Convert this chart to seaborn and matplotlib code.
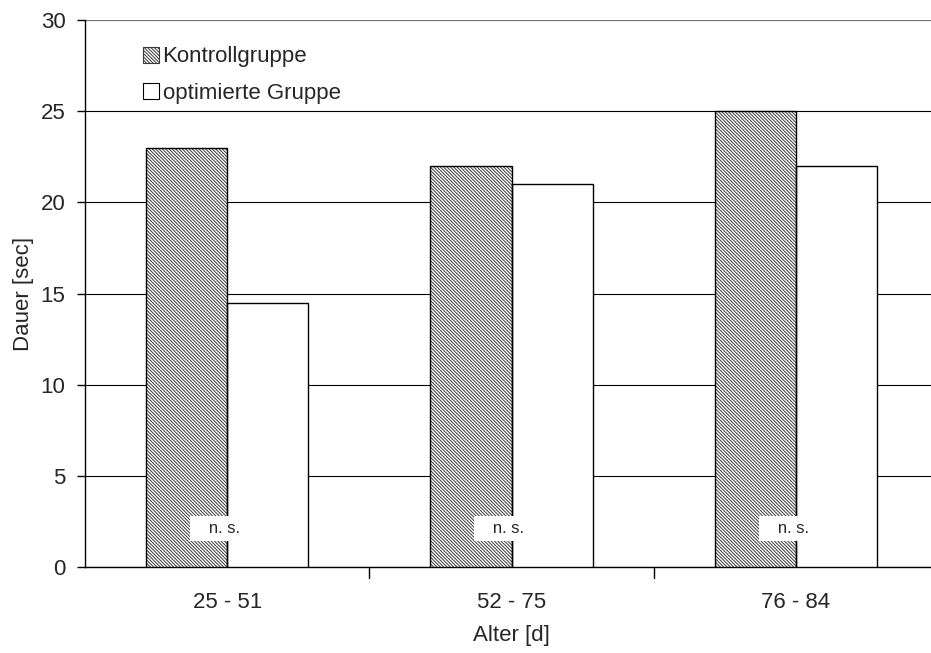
import numpy as np
import pandas as pd
import matplotlib
matplotlib.use("Agg")
import matplotlib.pyplot as plt
from matplotlib.patches import Patch, Rectangle
import seaborn as sns

# data
groups = ["25 - 51", "52 - 75", "76 - 84"]
kontroll = [23, 22, 25]
optimiert = [14.5, 21, 22]
series = ["Kontrollgruppe", "optimierte Gruppe"]
labels_ns = ["n. s.", "n. s.", "n. s."]

df = pd.DataFrame({
    "Alter": groups * 2,
    "Dauer": kontroll + optimiert,
    "Gruppe": [series[0]] * 3 + [series[1]] * 3,
})

sns.set_style("white")
plt.rcParams['font.family'] = ['Liberation Sans', 'DejaVu Sans']
plt.rcParams['hatch.linewidth'] = 0.7
HATCH = "\\" * 10
HATCH_COL = "#3a3a3a"

fig = plt.figure(figsize=(9.31, 6.53), dpi=100)
ax = fig.add_axes([85/931, 86/653, 853/931, 547/653])

sns.barplot(data=df, x="Alter", y="Dauer", hue="Gruppe", hue_order=series,
            palette=["white", "white"], width=0.57, edgecolor="black",
            linewidth=1.0, legend=False, ax=ax, zorder=3)

# hatch the control bars, then redraw a black outline on top
for p in list(ax.patches[:3]):
    p.set_hatch(HATCH)
    p.set_edgecolor(HATCH_COL)
    p.set_linewidth(0)
    ax.add_patch(Rectangle(p.get_xy(), p.get_width(), p.get_height(), fill=False,
                           edgecolor="black", linewidth=1.0, zorder=4))

ax.set_ylim(0, 30)
ax.set_xlim(-0.5, 2.5)
ax.set_yticks(np.arange(0, 31, 5))
ax.yaxis.grid(True, color="black", linewidth=0.8, zorder=0)
ax.set_axisbelow(True)
for s in ["top", "right"]:
    ax.spines[s].set_visible(False)
ax.spines["left"].set_color("black")
ax.spines["bottom"].set_color("black")
ax.spines["left"].set_linewidth(1.0)
ax.spines["bottom"].set_linewidth(1.0)
ax.axhline(30, color="#888888", linewidth=1.2, zorder=1)

# category separator ticks on x axis
ax.set_xticks([0, 1, 2])
ax.set_xticklabels(groups, fontsize=16)
ax.tick_params(axis="x", length=0, pad=18)
for xt in [0.5, 1.5]:
    ax.plot([xt, xt], [0, -0.6], color="black", linewidth=1.0, clip_on=False)
ax.tick_params(axis="y", left=True, length=6, width=1.0, color="black", labelsize=16, pad=8)

ax.set_xlabel("Alter [d]", fontsize=16, labelpad=9)
ax.set_ylabel("Dauer [sec]", fontsize=16, labelpad=5)

for i, t in enumerate(labels_ns):
    ax.text(i - 0.01, 2.1, "   " + t + "   ", ha="center", va="center", fontsize=12, zorder=5,
            bbox=dict(boxstyle="square,pad=0.3", facecolor="white", edgecolor="none"))

handles = [Patch(facecolor="white", edgecolor=HATCH_COL, hatch=HATCH, linewidth=0.8),
           Patch(facecolor="white", edgecolor="black", linewidth=0.8)]
leg = ax.legend(handles, series, loc="upper left", bbox_to_anchor=(0.057, 0.968),
                frameon=False, fontsize=16, handlelength=0.75, handleheight=0.75,
                handletextpad=0.15, labelspacing=0.7, borderaxespad=0)

fig.savefig("out.png", dpi=100)
